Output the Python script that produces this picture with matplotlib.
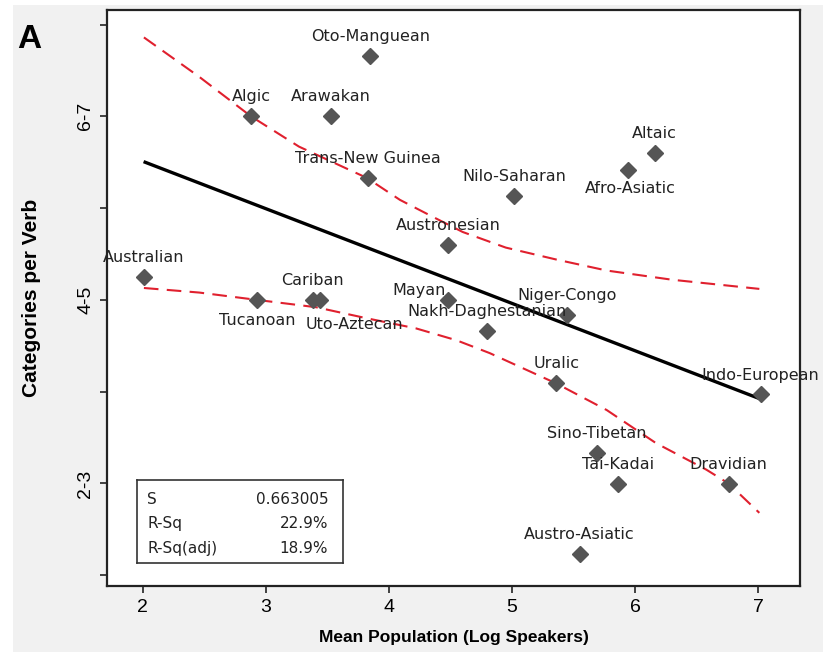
import numpy as np
import matplotlib.pyplot as plt
from matplotlib.patches import Rectangle

# Language families: mean population (log speakers) vs categories per verb
families = ['Oto-Manguean', 'Algic', 'Arawakan', 'Trans-New Guinea', 'Nilo-Saharan',
            'Altaic', 'Afro-Asiatic', 'Austronesian', 'Australian', 'Tucanoan',
            'Cariban', 'Uto-Aztecan', 'Mayan', 'Niger-Congo', 'Nakh-Daghestanian',
            'Uralic', 'Indo-European', 'Sino-Tibetan', 'Tai-Kadai', 'Dravidian',
            'Austro-Asiatic']
log_speakers = [3.85, 2.88, 3.53, 3.83, 5.02, 6.16, 5.94, 4.48, 2.01, 2.93,
                3.38, 3.44, 4.48, 5.45, 4.80, 5.36, 7.02, 5.69, 5.86, 6.76, 5.55]
categories = [6.66, 6.00, 6.00, 5.33, 5.13, 5.60, 5.41, 4.60, 4.25, 4.00,
              4.00, 4.00, 4.00, 3.84, 3.66, 3.09, 2.97, 2.33, 1.99, 1.99, 1.23]

# label offsets in points (dx, dy) relative to each marker
label_offsets = {'Tucanoan': (0, -15), 'Afro-Asiatic': (2, -13),
                 'Uto-Aztecan': (25, -18), 'Mayan': (-21, 7)}

# fitted regression line
fit_x = [2.02, 7.02]
fit_y = [5.50, 2.92]

# upper / lower bands
upper_x = [2.01, 2.46, 2.88, 3.27, 3.82, 4.09, 4.35, 4.60, 4.95, 5.36, 5.77, 6.30, 7.01]
upper_y = [6.86, 6.43, 6.00, 5.67, 5.33, 5.09, 4.91, 4.74, 4.57, 4.44, 4.32, 4.22, 4.12]
lower_x = [2.01, 2.46, 2.93, 3.41, 3.82, 4.22, 4.55, 4.82, 5.36, 5.77, 6.17, 6.58, 6.76, 7.01]
lower_y = [4.13, 4.08, 4.00, 3.92, 3.80, 3.69, 3.56, 3.42, 3.09, 2.80, 2.44, 2.15, 2.00, 1.68]

stats_names = ['S', 'R-Sq', 'R-Sq(adj)']
stats_values = ['0.663005', '22.9%', '18.9%']

fig = plt.figure(figsize=(8.23, 6.58), dpi=100, facecolor='white')
fig.patches.append(Rectangle((13 / 823, 6 / 658), 810 / 823, 647 / 658,
                             transform=fig.transFigure, facecolor='#f1f1f1',
                             edgecolor='none', zorder=-10))
ax = fig.add_axes([0.130, 0.109, 0.842, 0.876])
ax.set_facecolor('white')

ax.plot(upper_x, upper_y, color='#e0202e', lw=1.5, dashes=(7, 4), zorder=2)
ax.plot(lower_x, lower_y, color='#e0202e', lw=1.5, dashes=(7, 4), zorder=2)
ax.plot(fit_x, fit_y, color='black', lw=2.4, zorder=3)
ax.plot(log_speakers, categories, linestyle='none', marker='D', ms=8.5,
        color='#555555', zorder=4)

for name, x, y in zip(families, log_speakers, categories):
    dx, dy = label_offsets.get(name, (0, 14))
    ax.annotate(name, (x, y), xytext=(dx, dy), textcoords='offset points',
                ha='center', va='center', fontsize=11.5, color='#222222',
                family='DejaVu Sans', zorder=5)

ax.set_xlim(1.71, 7.34)
ax.set_ylim(0.88, 7.16)
ax.set_xticks([2, 3, 4, 5, 6, 7])
ax.set_xticklabels(['2', '3', '4', '5', '6', '7'], fontsize=14, family='Liberation Sans')
ax.set_yticks([1, 2, 3, 4, 5, 6, 7])
ax.set_yticklabels(['', '2-3', '', '4-5', '', '6-7', ''], fontsize=14,
                   family='Liberation Sans', rotation=90, va='center')
ax.tick_params(direction='out', length=5, width=1.3, color='#333333', pad=4)
for sp in ax.spines.values():
    sp.set_linewidth(1.6)
    sp.set_color('#222222')

ax.set_xlabel('Mean Population (Log Speakers)', fontsize=12.5, fontweight='bold',
              family=['Liberation Sans Narrow', 'Liberation Sans'], labelpad=10)
ax.set_ylabel('Categories per Verb', fontsize=15, fontweight='bold',
              family='Liberation Sans', labelpad=26)

fig.text(17 / 823, 1 - 40 / 658, 'A', fontsize=24, fontweight='bold',
         family='Liberation Sans', va='center', ha='left')

# summary statistics box
box = ax.inset_axes([0.043, 0.040, 0.297, 0.144])
box.set_xticks([])
box.set_yticks([])
for sp in box.spines.values():
    sp.set_linewidth(1.2)
    sp.set_color('#333333')
for i, (n, v) in enumerate(zip(stats_names, stats_values)):
    yy = 0.77 - i * 0.295
    box.text(0.05, yy, n, fontsize=11, va='center', ha='left', color='#222222')
    box.text(0.93, yy, v, fontsize=11, va='center', ha='right', color='#222222')

fig.savefig('out.png', dpi=100, facecolor=fig.get_facecolor())
